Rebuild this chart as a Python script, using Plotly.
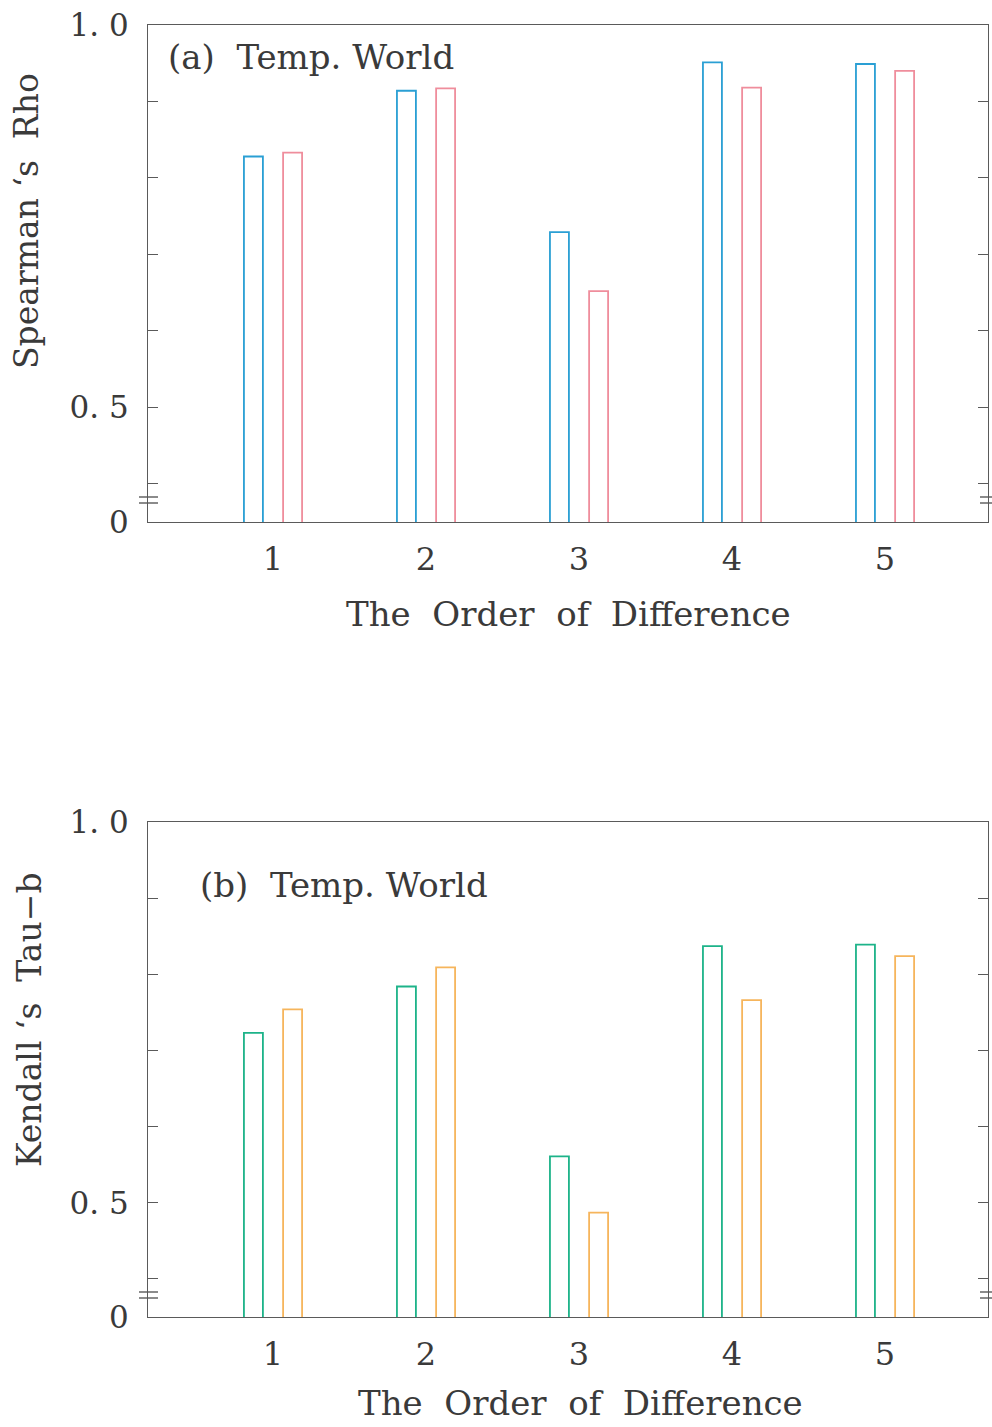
import plotly.graph_objects as go

# ---- data ----
orders = [1, 2, 3, 4, 5]
rho_blue = [0.828, 0.914, 0.729, 0.951, 0.949]
rho_pink = [0.833, 0.917, 0.652, 0.918, 0.940]
tau_green = [0.723, 0.784, 0.561, 0.837, 0.839]
tau_orange = [0.754, 0.809, 0.487, 0.766, 0.824]
ytick_vals = [0.35, 0.4, 0.5, 0.6, 0.7, 0.8, 0.9, 1.0]
ytick_text = ["0", "", "0. 5", "", "", "", "", "1. 0"]
panel_a_title = "(a)  Temp. World"
panel_b_title = "(b)  Temp. World"
xlabel = "The  Order  of  Difference"
ylabel_a = "Spearman ‘s  Rho"
ylabel_b = "Kendall ‘s  Tau−b"

# ---- style ----
W, H = 992, 1427
ML, MR, MT, MB = 148, 4, 25, 110
FONT = "DejaVu Serif"
TXT = "#3a3a3a"
AX = "#5a5a5a"
BLUE, PINK, GREEN, ORANGE = "#2a9fd4", "#ef8d9c", "#1db389", "#f6b55c"
PH = H - MT - MB
PW = W - ML - MR


def px_to_paper_y(py):
    return (H - MB - py) / PH


def px_to_paper_x(px):
    return (px - ML) / PW


BW = 0.124
fig = go.Figure()
for vals, col, off, ax in [
    (rho_blue, BLUE, -0.19, "1"),
    (rho_pink, PINK, 0.066, "1"),
    (tau_green, GREEN, -0.19, "2"),
    (tau_orange, ORANGE, 0.066, "2"),
]:
    fig.add_trace(go.Bar(
        x=orders, y=vals, width=BW, offset=off,
        marker=dict(color="rgba(255,255,255,0)", line=dict(color=col, width=1.8)),
        xaxis="x" if ax == "1" else "x2", yaxis="y" if ax == "1" else "y2",
        showlegend=False,
    ))

a_top = 1.0
a_bot = px_to_paper_y(522)
b_top = px_to_paper_y(822)

xcommon = dict(range=[0.183, 5.673], tickvals=orders, ticks="", showline=True,
               linecolor=AX, linewidth=1.3, mirror=True, showgrid=False, zeroline=False,
               tickfont=dict(family=FONT, size=32, color=TXT), ticklabelstandoff=8)
ycommon = dict(range=[0.35, 1.0], tickvals=ytick_vals, ticktext=ytick_text, ticks="inside",
               ticklen=10, tickcolor=AX, tickwidth=1.2, showline=True, linecolor=AX,
               linewidth=1.3, mirror="ticks", showgrid=False, zeroline=False,
               tickfont=dict(family=FONT, size=31, color=TXT), ticklabelstandoff=12)

fig.update_layout(
    width=W, height=H, margin=dict(l=ML, r=MR, t=MT, b=MB),
    paper_bgcolor="white", plot_bgcolor="white",
    barmode="overlay",
    xaxis=dict(domain=[0, 1], anchor="y", **xcommon),
    yaxis=dict(domain=[a_bot, a_top], anchor="x", **ycommon),
    xaxis2=dict(domain=[0, 1], anchor="y2", **xcommon),
    yaxis2=dict(domain=[0, b_top], anchor="x2", **ycommon),
)

anns = [
    dict(text=panel_a_title, x=px_to_paper_x(166), y=px_to_paper_y(57), xanchor="left", yanchor="middle", size=34),
    dict(text=panel_b_title, x=px_to_paper_x(198), y=px_to_paper_y(885), xanchor="left", yanchor="middle", size=34),
    dict(text=xlabel, x=px_to_paper_x(568), y=px_to_paper_y(614), xanchor="center", yanchor="middle", size=34),
    dict(text=xlabel, x=px_to_paper_x(580), y=px_to_paper_y(1403), xanchor="center", yanchor="middle", size=34),
    dict(text=ylabel_a, x=px_to_paper_x(27), y=px_to_paper_y(221), xanchor="center", yanchor="middle", size=33, angle=-90),
    dict(text=ylabel_b, x=px_to_paper_x(29), y=px_to_paper_y(1020), xanchor="center", yanchor="middle", size=33, angle=-90),
]
for a in anns:
    fig.add_annotation(text=a["text"], x=a["x"], y=a["y"], xref="paper", yref="paper",
                       xanchor=a["xanchor"], yanchor=a["yanchor"], showarrow=False,
                       textangle=a.get("angle", 0),
                       font=dict(family=FONT, size=a["size"], color=TXT))

# broken-axis marks
for y1, y2 in [(497, 503), (1292, 1298)]:
    for py in (y1, y2):
        fig.add_shape(type="line", xref="paper", yref="paper",
                      x0=px_to_paper_x(139), x1=px_to_paper_x(158),
                      y0=px_to_paper_y(py), y1=px_to_paper_y(py),
                      line=dict(color=AX, width=1.4))
        fig.add_shape(type="line", xref="paper", yref="paper",
                      x0=px_to_paper_x(980), x1=px_to_paper_x(992),
                      y0=px_to_paper_y(py), y1=px_to_paper_y(py),
                      line=dict(color=AX, width=1.4))

fig.write_html("out.html")
